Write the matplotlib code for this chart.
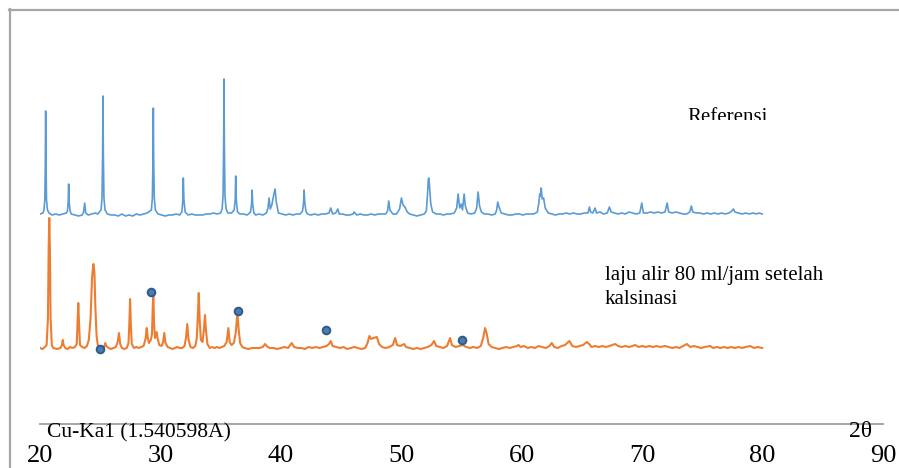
import matplotlib
matplotlib.use('Agg')
import matplotlib.pyplot as plt
from matplotlib.lines import Line2D
from matplotlib.patches import Rectangle

plt.rcParams['font.family'] = ['Liberation Serif', 'DejaVu Serif']

# --- data (2theta in degrees, intensity in a.u. above own baseline) ---
ref_2theta = [20.00, 20.25, 20.33, 20.40, 20.44, 20.47, 20.50, 20.54, 20.62, 20.75, 21.0, 21.3, 21.6, 21.9, 22.2,
              22.28, 22.34, 22.38, 22.42, 22.50, 22.6, 22.9, 23.2, 23.5, 23.62, 23.71, 23.80, 24.0, 24.3, 24.6,
              24.8, 25.07, 25.15, 25.20, 25.23, 25.26, 25.31, 25.40, 25.6, 25.9, 26.2, 26.5, 26.8, 27.1, 27.4,
              27.7, 28.0, 28.3, 28.6, 28.9, 29.25, 29.33, 29.38, 29.41, 29.44, 29.49, 29.58, 29.8, 30.1, 30.4,
              30.7, 31.0, 31.3, 31.6, 31.78, 31.86, 31.90, 31.95, 32.05, 32.3, 32.6, 32.9, 33.2, 33.5, 33.8,
              34.1, 34.4, 34.7, 35.0, 35.12, 35.20, 35.25, 35.28, 35.31, 35.36, 35.45, 35.6, 35.9, 36.12, 36.21,
              36.25, 36.30, 36.40, 36.6, 36.9, 37.2, 37.48, 37.57, 37.61, 37.66, 37.76, 37.9, 38.2, 38.5, 38.8,
              38.93, 39.02, 39.12, 39.25, 39.42, 39.52, 39.62, 39.8, 40.1, 40.4, 40.7, 41.0, 41.3, 41.6, 41.80,
              41.89, 41.93, 41.98, 42.08, 42.2, 42.5, 42.8, 43.1, 43.4, 43.7, 44.0, 44.14, 44.3, 44.55, 44.73,
              44.85, 45.1, 45.4, 45.7, 46.0, 46.08, 46.3, 46.6, 46.9, 47.2, 47.5, 47.8, 48.1, 48.4, 48.7,
              48.86, 48.96, 49.06, 49.3, 49.6, 49.86, 50.01, 50.15, 50.3, 50.5, 50.7, 51.0, 51.3, 51.6, 51.9,
              52.08, 52.18, 52.24, 52.28, 52.33, 52.45, 52.6, 52.9, 53.2, 53.5, 53.8, 54.1, 54.4, 54.6, 54.72,
              54.85, 54.98, 55.08, 55.22, 55.32, 55.5, 55.8, 56.1, 56.26, 56.38, 56.50, 56.65, 56.9, 57.2, 57.5,
              57.8, 57.92, 58.01, 58.12, 58.3, 58.6, 58.9, 59.2, 59.5, 59.8, 60.1, 60.4, 60.7, 61.0, 61.3,
              61.43, 61.50, 61.55, 61.62, 61.70, 61.82, 61.95, 62.2, 62.5, 62.8, 63.1, 63.4, 63.7, 64.0, 64.3,
              64.6, 64.9, 65.2, 65.5, 65.62, 65.72, 65.9, 66.10, 66.2, 66.5, 66.8, 67.1, 67.28, 67.42, 67.7,
              68.0, 68.3, 68.6, 68.9, 69.2, 69.5, 69.8, 69.97, 70.1, 70.4, 70.7, 71.0, 71.3, 71.6, 71.9,
              72.08, 72.2, 72.5, 72.8, 73.1, 73.4, 73.7, 73.95, 74.09, 74.2, 74.5, 74.8, 75.1, 75.4, 75.7,
              76.0, 76.3, 76.6, 76.9, 77.2, 77.45, 77.58, 77.7, 78.0, 78.3, 78.6, 78.9, 79.2, 79.5, 79.7,
              79.97]
ref_int = [0, 1, 4, 14, 50, 103, 50, 14, 4, 1, -1, 0, -1, 0, 1,
           3, 12, 30, 12, 3, 0, -1, -2, -1, 2, 11, 1, -1, 0, 1,
           0, 4, 16, 60, 118, 60, 16, 4, 0, -1, -1, -2, 0, -2, -1,
           -2, 0, -1, 0, 1, 4, 16, 55, 106, 55, 16, 4, 0, -1, -2,
           -1, -1, 0, -1, 2, 14, 36, 14, 2, -1, 0, -1, -1, -1, 0,
           0, 1, 0, 1, 5, 18, 70, 135, 70, 18, 5, 1, 1, 4, 14,
           38, 14, 2, 0, 0, -1, 2, 10, 24, 10, 1, -1, 0, -1, 1,
           6, 16, 5, 9, 20, 25, 12, 1, 0, -1, 0, -1, 0, 0, 3,
           12, 24, 12, 3, 0, -1, 0, -1, 0, 0, 1, 6, 0, 1, 5,
           0, 0, -1, -1, 0, 2, -1, 0, -1, -1, 0, -1, 0, 0, 0,
           3, 13, 4, 0, 0, 5, 16, 9, 7, 2, 0, -1, -2, -1, 0,
           3, 20, 34, 36, 30, 10, 2, 0, 0, -1, 0, 0, 1, 6, 20,
           6, 10, 4, 20, 8, 1, 0, 1, 6, 22, 8, 2, 0, 0, -1,
           0, 4, 12, 7, 1, 0, -1, -1, 0, 0, -1, 0, 0, 0, 2,
           12, 20, 18, 26, 15, 16, 6, 1, 0, -1, 0, 0, 1, 0, 1,
           0, 0, 1, 1, 7, 2, 1, 6, 1, 2, 0, 1, 7, 2, 1,
           0, 1, 0, 2, 1, 0, 1, 11, 1, 1, 2, 1, 2, 1, 2,
           11, 2, 1, 2, 1, 0, 0, 2, 8, 2, 1, 1, 0, 1, 0,
           1, 0, 1, 0, 1, 3, 5, 2, 1, 0, 1, 0, 1, 0, 1,
           0]

calc_2theta = [20.0, 20.2, 20.4, 20.55, 20.66, 20.72, 20.77, 20.82, 20.88, 20.98, 21.1, 21.4, 21.7, 21.82, 21.89,
               21.96, 22.1, 22.3, 22.5, 22.7, 22.9, 23.05, 23.12, 23.18, 23.24, 23.32, 23.5, 23.7, 23.9, 24.05,
               24.2, 24.32, 24.43, 24.52, 24.6, 24.7, 24.8, 24.95, 25.1, 25.3, 25.42, 25.5, 25.7, 25.9, 26.1,
               26.3, 26.45, 26.56, 26.66, 26.8, 27.0, 27.2, 27.35, 27.42, 27.48, 27.54, 27.62, 27.8, 28.0, 28.2,
               28.4, 28.6, 28.78, 28.86, 28.95, 29.05, 29.2, 29.3, 29.36, 29.41, 29.47, 29.55, 29.62, 29.69, 29.76,
               29.9, 30.1, 30.22, 30.32, 30.42, 30.6, 30.8, 31.0, 31.2, 31.4, 31.6, 31.8, 32.0, 32.12, 32.23,
               32.34, 32.5, 32.7, 32.9, 33.02, 33.1, 33.18, 33.26, 33.36, 33.5, 33.62, 33.70, 33.78, 33.9, 34.1,
               34.3, 34.5, 34.7, 34.9, 35.1, 35.3, 35.5, 35.64, 35.75, 35.9, 36.1, 36.25, 36.39, 36.5, 36.62,
               36.8, 37.0, 37.3, 37.6, 37.9, 38.2, 38.5, 38.69, 38.9, 39.1, 39.4, 39.7, 40.0, 40.3, 40.6,
               40.9, 41.1, 41.4, 41.7, 42.0, 42.3, 42.6, 42.9, 43.2, 43.5, 43.8, 44.0, 44.14, 44.3, 44.6,
               44.9, 45.2, 45.5, 45.8, 46.1, 46.4, 46.7, 47.0, 47.2, 47.35, 47.5, 47.7, 47.97, 48.15, 48.4,
               48.7, 49.0, 49.3, 49.49, 49.65, 49.9, 50.1, 50.23, 50.4, 50.7, 51.0, 51.3, 51.6, 51.9, 52.2,
               52.5, 52.72, 52.9, 53.2, 53.5, 53.8, 54.05, 54.2, 54.5, 54.8, 55.1, 55.4, 55.7, 56.0, 56.3,
               56.6, 56.8, 56.96, 57.1, 57.25, 57.5, 57.8, 58.1, 58.4, 58.7, 59.0, 59.3, 59.6, 59.73, 59.9,
               60.2, 60.5, 60.8, 61.1, 61.4, 61.7, 62.0, 62.3, 62.5, 62.7, 63.0, 63.3, 63.6, 63.96, 64.2,
               64.5, 64.8, 65.1, 65.41, 65.6, 65.8, 66.1, 66.4, 66.7, 67.0, 67.3, 67.5, 67.76, 68.0, 68.3,
               68.6, 68.9, 69.2, 69.42, 69.7, 70.0, 70.3, 70.6, 70.9, 71.2, 71.5, 71.91, 72.2, 72.5, 72.8,
               73.1, 73.4, 73.71, 74.0, 74.3, 74.6, 74.9, 75.2, 75.65, 75.9, 76.2, 76.5, 76.8, 77.1, 77.4,
               77.7, 78.0, 78.3, 78.6, 78.97, 79.3, 79.6, 79.97]
calc_int = [0, -1, 1, 3, 30, 100, 130, 100, 30, 3, 0, -1, 0, 3, 8,
            3, 0, -1, 1, 0, 1, 4, 25, 45, 25, 3, 1, 0, 2, 8,
            30, 70, 84, 75, 40, 12, 3, 0, -1, 0, 5, 2, 0, -1, 0,
            1, 6, 15, 4, 0, -1, 0, 5, 25, 49, 25, 4, 0, 1, 0,
            1, 2, 10, 20, 10, 5, 8, 14, 40, 55, 25, 10, 13, 16, 10,
            3, 2, 6, 15, 5, 1, 0, -1, 0, 1, 0, 0, 2, 10, 24,
            8, 1, 0, 2, 10, 30, 55, 28, 8, 6, 20, 33, 18, 4, 0,
            1, 0, 1, 0, 1, 2, 6, 20, 6, 3, 5, 15, 35, 18, 5,
            1, 0, -1, 0, 0, 0, 1, 4, 1, 0, 0, -1, 0, 1, 0,
            5, 1, 0, 0, -1, 1, 0, 1, 0, 1, 2, 4, 7, 2, 1,
            0, 1, -1, 0, 1, 0, -1, 0, 5, 12, 9, 10, 11, 4, 1,
            0, 1, 3, 10, 3, 2, 3, 4, 1, 0, -1, 0, -1, 0, 1,
            3, 7, 2, 1, 0, 2, 10, 3, 1, 2, 3, 1, 0, 1, 0,
            2, 10, 20, 14, 4, 1, 0, -1, 0, 1, 0, 1, 2, 3, 1,
            2, 0, 1, 0, 2, 1, 0, 2, 5, 1, 0, 2, 3, 7, 2,
            1, 2, 3, 6, 4, 1, 2, 1, 2, 1, 2, 3, 4, 2, 1,
            2, 1, 2, 3, 1, 2, 1, 2, 1, 2, 1, 2, 1, 0, 1,
            0, 2, 4, 1, 2, 1, 0, 1, 2, 0, 1, 0, 1, 0, 1,
            0, 1, 0, 1, 2, 0, 1, 0]

dot_2theta = [24.98, 29.19, 36.42, 43.73, 55.02]
dot_int = [-1, 56, 37, 18, 8]

ticks = [20, 30, 40, 50, 60, 70, 80, 90]

# --- figure ---
W, H = 899, 468
fig = plt.figure(figsize=(W / 100, H / 100), dpi=100)

def fx(px):
    return px / W

def fy(py):
    return (H - py) / H

ax = fig.add_axes([fx(40), fy(424), fx(883) - fx(40), fy(10) - fy(424)])
ax.set_xlim(20, 90)
ax.set_ylim(0, 414)

calc_off = 76
ref_off = 210
ax.plot(ref_2theta, [v + ref_off for v in ref_int], color='#5B9BD5', lw=1.2, solid_joinstyle='round')
ax.plot(calc_2theta, [v + calc_off for v in calc_int], color='#ED7D31', lw=1.5, solid_joinstyle='round')
ax.plot(dot_2theta, [v + calc_off for v in dot_int], ls='none', marker='o', ms=5.5,
        mfc='#4A7CB3', mec='#2E5C8A', mew=1.4)

for s in ['top', 'right', 'left']:
    ax.spines[s].set_visible(False)
ax.spines['bottom'].set_color('#A6A6A6')
ax.spines['bottom'].set_linewidth(1.4)
ax.set_yticks([])
ax.set_xticks(ticks)
ax.set_xticklabels([str(t) for t in ticks])
ax.tick_params(axis='x', length=0, pad=15, labelsize=19)
ax.patch.set_visible(False)

# chart area border (left and top edges visible)
fig.add_artist(Line2D([fx(10), fx(10)], [fy(9), fy(470)], color='#A6A6A6', lw=1.6, transform=fig.transFigure))
fig.add_artist(Line2D([fx(9), fx(900)], [fy(10), fy(10)], color='#A6A6A6', lw=1.6, transform=fig.transFigure))

# texts
fig.text(fx(47), fy(437), 'Cu-Ka1 (1.540598A)', fontsize=15.5, va='baseline', ha='left')
fig.text(fx(849), fy(437), '2θ', fontsize=17, va='baseline', ha='left')
fig.text(fx(605), fy(304), 'laju alir 80 ml/jam setelah\nkalsinasi', fontsize=15, va='baseline', ha='left',
         linespacing=1.33)

ref_txt = fig.text(fx(687), fy(122), 'Referensi', fontsize=15, va='baseline', ha='left')
clip = Rectangle((fx(650), fy(120)), fx(150), fy(90) - fy(120), transform=fig.transFigure)
ref_txt.set_clip_path(clip)

fig.savefig('out.png', dpi=100)
